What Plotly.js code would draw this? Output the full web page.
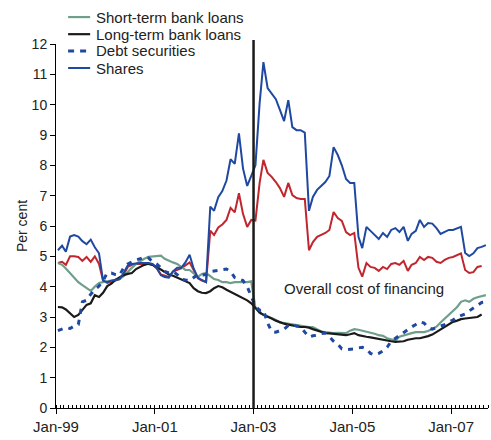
<!DOCTYPE html>
<html><head><meta charset="utf-8">
<script src="https://cdn.plot.ly/plotly-3.0.1.min.js"></script>
<style>html,body{margin:0;padding:0;background:#fff}#chart{width:491px;height:440px}</style>
</head><body><div id="chart"></div>
<script>
// Monthly observations starting January 1999
const START_YEAR = 1999, START_MONTH = 1;

const shortTermLoans = [
  4.78,4.72,4.6,4.45,4.3,4.15,4.05,3.95,3.86,4.0,4.12,4.15,
  4.17,4.2,4.22,4.25,4.35,4.5,4.62,4.75,4.85,4.92,4.98,5.0,5.0,5.02,4.92,4.85,4.8,4.75,4.65,4.55,4.55,4.45,4.32,4.42,4.45,
  4.35,4.25,4.22,4.15,4.15,4.12,4.15,4.15,4.15,4.15,4.18,
  3.3,3.13,3.08,3.02,2.97,2.9,2.82,2.8,2.78,2.75,2.72,2.7,2.68,2.67,2.67,2.6,2.52,2.5,2.48,2.47,2.48,2.47,
  2.47,2.55,2.6,2.58,2.55,2.53,2.5,2.45,2.4,2.38,2.3,2.25,2.22,2.35,2.4,2.45,2.47,2.5,
  2.5,2.5,2.54,2.6,2.68,2.82,2.95,3.05,3.2,3.33,3.5,3.55,3.5,3.6,3.65,3.68,3.72
];
const longTermLoans = [
  3.33,3.32,3.25,3.12,3.0,3.07,3.23,3.4,3.45,3.72,3.66,3.8,
  4.02,4.1,4.22,4.3,4.38,4.42,4.45,4.58,4.65,4.72,4.76,4.72,4.65,4.56,4.5,4.4,4.36,4.3,4.25,4.2,4.12,3.95,3.85,3.8,3.79,
  3.85,3.95,4.02,3.98,3.9,3.83,3.75,3.7,3.62,3.55,3.45,
  3.3,3.15,3.07,3.02,2.95,2.88,2.82,2.78,2.75,2.72,2.68,2.67,2.67,2.65,2.6,2.55,2.5,2.47,2.46,2.45,2.43,2.42,
  2.4,2.43,2.47,2.4,2.37,2.35,2.33,2.3,2.27,2.25,2.22,2.2,2.18,2.18,2.2,2.25,2.28,2.3,
  2.3,2.33,2.37,2.42,2.5,2.58,2.67,2.75,2.84,2.88,2.93,2.95,2.97,2.98,3.0,3.08
];
const debtSecurities = [
  2.55,2.6,2.65,2.62,2.7,2.75,3.5,3.55,3.75,3.9,4.02,4.2,
  4.45,4.45,4.4,4.38,4.62,4.75,4.82,4.88,4.92,4.98,4.95,4.82,4.75,4.6,4.5,4.45,4.5,4.4,4.25,4.22,4.2,4.3,4.4,4.38,4.4,
  4.5,4.52,4.55,4.55,4.58,4.5,4.3,4.25,4.2,4.0,3.65,
  3.35,3.22,3.23,2.8,2.52,2.5,2.55,2.6,2.72,2.74,2.7,2.68,2.5,2.34,2.38,2.4,2.45,2.47,2.35,2.2,2.1,1.95,
  1.92,1.93,1.95,1.98,2.0,1.95,1.8,1.75,1.8,1.88,2.0,2.2,2.3,2.4,2.5,2.6,2.67,2.75,
  2.84,2.8,2.65,2.6,2.65,2.7,2.75,2.84,2.9,3.0,3.05,3.1,3.2,3.3,3.4,3.48,3.5
];
const shares = [
  5.2,5.35,5.15,5.65,5.7,5.65,5.5,5.4,5.55,5.3,5.1,4.2,
  4.15,4.2,4.22,4.25,4.45,4.7,4.75,4.77,4.78,4.78,4.78,4.75,4.62,4.38,4.32,4.3,4.5,4.62,4.62,4.8,5.05,4.6,4.3,4.22,4.15,
  6.64,6.5,6.95,7.15,7.5,8.2,8.05,9.05,7.9,7.32,7.65,8.0,
  10.05,11.4,10.55,10.38,10.18,9.83,9.46,10.15,9.26,9.16,9.16,9.08,
  6.5,6.96,7.19,7.32,7.45,7.65,8.6,8.34,8.0,7.55,7.42,7.42,
  5.64,5.27,5.97,5.84,5.7,5.57,5.77,5.64,5.87,5.93,5.8,5.97,
  5.51,5.74,5.84,6.2,5.97,6.1,6.08,5.93,5.74,5.8,5.87,5.87,5.93,5.97,
  5.11,5.01,5.1,5.27,5.31,5.37
];
const redSeries = [
  4.78,4.82,4.72,5.0,5.0,4.98,4.85,4.98,4.82,5.0,4.75,4.2,
  4.12,4.15,4.2,4.25,4.4,4.65,4.72,4.75,4.75,4.75,4.75,4.72,4.6,4.4,4.35,4.32,4.5,4.55,4.6,4.7,4.8,4.55,4.28,4.2,4.15,
  5.85,5.7,5.95,6.05,6.2,6.6,6.45,7.08,6.4,5.97,6.2,6.18,
  7.42,8.18,7.75,7.62,7.45,7.25,6.96,7.42,7.02,6.92,6.89,6.89,
  5.2,5.47,5.64,5.7,5.77,5.87,6.46,6.26,6.17,5.8,5.7,5.77,
  4.62,4.33,4.78,4.65,4.62,4.52,4.65,4.58,4.75,4.78,4.72,4.85,
  4.52,4.72,4.78,4.98,4.88,4.98,4.95,4.82,4.78,4.88,4.95,4.98,5.04,5.1,
  4.55,4.45,4.48,4.65,4.68
];
const seriesNames = ['Short-term bank loans','Long-term bank loans','Debt securities','Shares'];
const markerDate = '2003-01-01';
const noteText = 'Overall cost of financing';

function monthDates(n){
  const out=[];
  for(let k=0;k<n;k++){
    const t=START_MONTH-1+k;
    const y=START_YEAR+Math.floor(t/12), m=t%12+1;
    out.push(y+'-'+String(m).padStart(2,'0')+'-15');
  }
  return out;
}

const GREEN='#6f9f8b', BLACK='#1a1a1a', BLUE='#1f48a0', RED='#c0262e';
const FONT='"Liberation Sans", Arial, sans-serif';

const traces=[
  {x:monthDates(redSeries.length),y:redSeries,type:'scatter',mode:'lines',line:{color:RED,width:2},showlegend:false,name:'Shares (red)'},
  {x:monthDates(shortTermLoans.length),y:shortTermLoans,type:'scatter',mode:'lines',line:{color:GREEN,width:2.2},name:seriesNames[0]},
  {x:monthDates(longTermLoans.length),y:longTermLoans,type:'scatter',mode:'lines',line:{color:BLACK,width:2.2},name:seriesNames[1]},
  {x:monthDates(debtSecurities.length),y:debtSecurities,type:'scatter',mode:'lines',line:{color:BLUE,width:3,dash:'5px,6px'},name:seriesNames[2]},
  {x:monthDates(shares.length),y:shares,type:'scatter',mode:'lines',line:{color:BLUE,width:2},name:seriesNames[3]}
];

// custom legend (paper coordinates)
const legendStyles=[
  {color:GREEN,width:2.2,dash:'solid'},
  {color:BLACK,width:2.2,dash:'solid'},
  {color:BLUE,width:3,dash:'6px,6px'},
  {color:BLUE,width:2,dash:'solid'}
];
const legendRowsY=[1.074,1.027,0.981,0.934];
const shapes=[{type:'line',xref:'x',yref:'paper',x0:markerDate,x1:markerDate,y0:0,y1:1.011,line:{color:BLACK,width:2.5}}];
const annotations=[{xref:'paper',yref:'paper',x:0.712,y:0.327,text:noteText,showarrow:false,xanchor:'center',yanchor:'middle',font:{family:FONT,size:15,color:'#222'}}];
seriesNames.forEach((n,i)=>{
  shapes.push({type:'line',xref:'paper',yref:'paper',x0:0.028,x1:0.079,y0:legendRowsY[i],y1:legendRowsY[i],line:legendStyles[i]});
  annotations.push({xref:'paper',yref:'paper',x:0.088,y:legendRowsY[i],text:n,showarrow:false,xanchor:'left',yanchor:'middle',font:{family:FONT,size:15,color:'#222'}});
});

const layout={
  width:491,height:440,
  margin:{l:56,r:3,t:44,b:32},
  paper_bgcolor:'#fff',plot_bgcolor:'#fff',
  showlegend:false,
  font:{family:FONT,color:'#222'},
  xaxis:{type:'date',range:['1999-01-01','2007-10-01'],tick0:'1999-01-01',dtick:'M24',tickformat:'%b-%y',
    ticks:'outside',ticklen:5,tickcolor:'#000',showline:true,linecolor:'#000',linewidth:1,showgrid:false,zeroline:false,
    tickfont:{size:15,family:FONT,color:'#222'},
    minor:{tick0:'1999-01-01',dtick:'M1',ticks:'inside',ticklen:3,tickcolor:'#000',showgrid:false}},
  yaxis:{range:[0,12],dtick:1,ticks:'outside',ticklen:5,tickcolor:'#000',showline:true,linecolor:'#000',linewidth:1,
    showgrid:false,zeroline:false,tickfont:{size:14,family:FONT,color:'#222'},
    title:{text:'Per cent',font:{size:14,family:FONT,color:'#222'},standoff:0}},
  shapes:shapes,annotations:annotations
};
Plotly.newPlot('chart',traces,layout,{staticPlot:true,displayModeBar:false});
</script></body></html>
